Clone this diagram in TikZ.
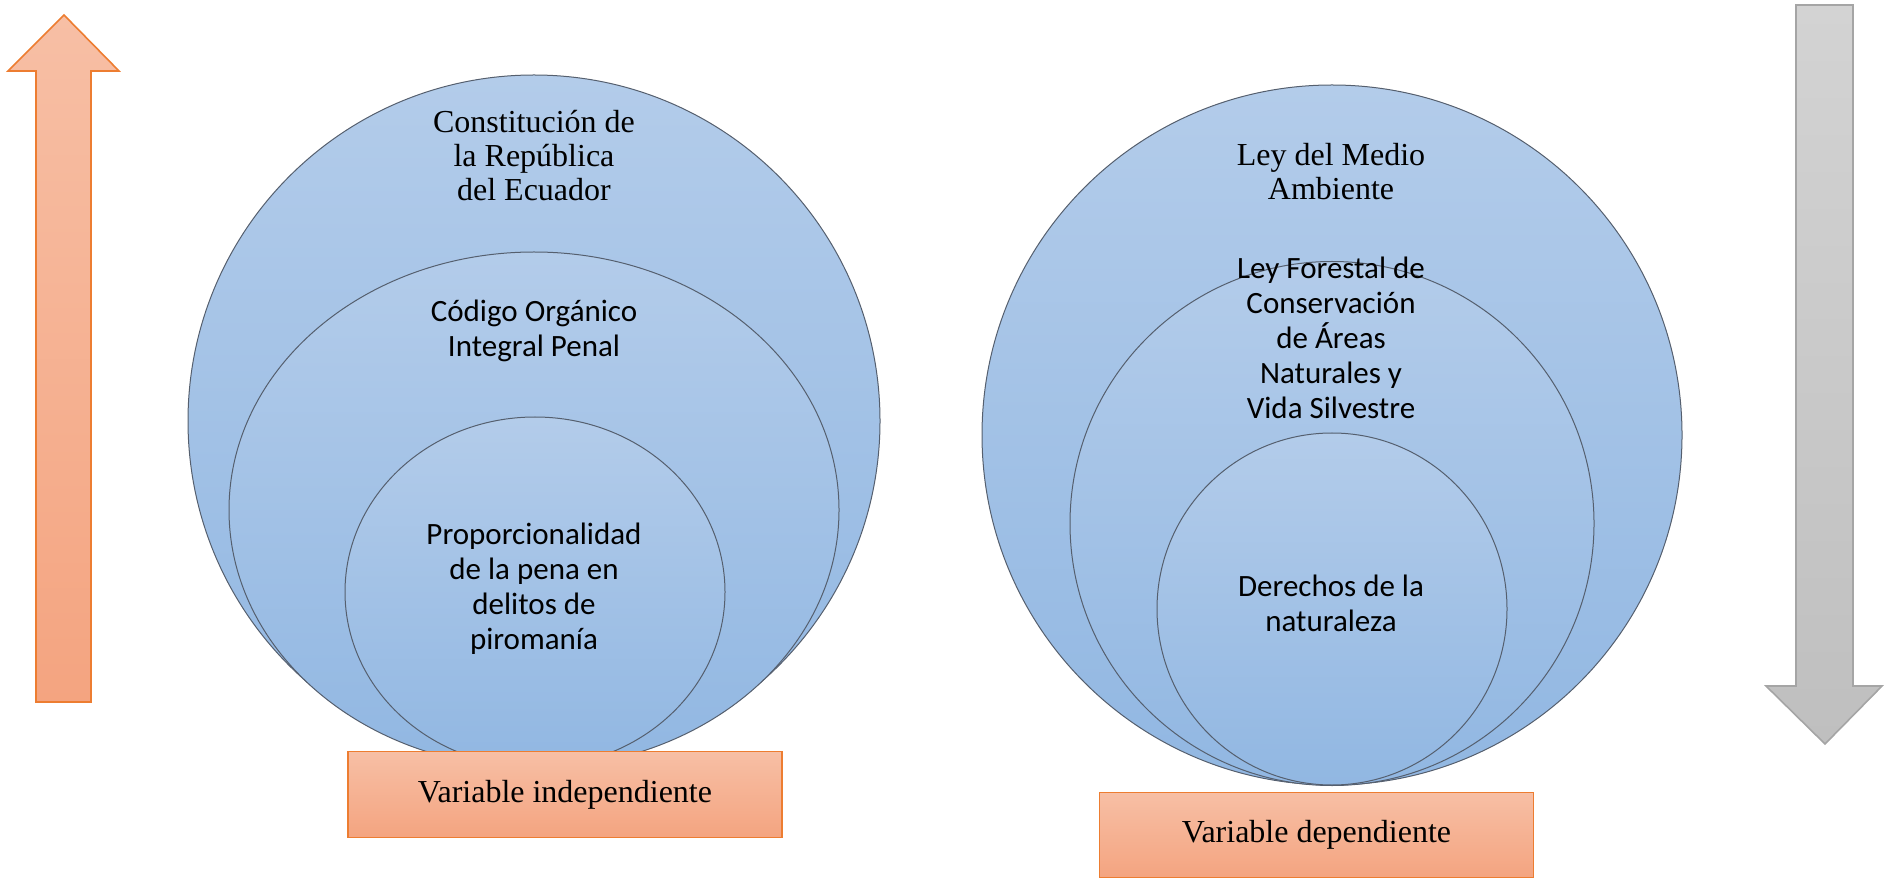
\documentclass[tikz,border=0pt]{standalone}
\usepackage{fontspec}
\setmainfont{Liberation Serif}
\newfontfamily\calibri{Carlito}
\definecolor{ringtop}{RGB}{179,204,234}
\definecolor{ringbot}{RGB}{145,183,226}
\definecolor{ringline}{RGB}{85,95,110}
\definecolor{boxtop}{RGB}{247,191,165}
\definecolor{boxbot}{RGB}{244,164,128}
\definecolor{orangeline}{RGB}{237,125,49}
\definecolor{graytop}{RGB}{211,211,211}
\definecolor{graybot}{RGB}{191,191,191}
\definecolor{grayline}{RGB}{165,165,165}
\begin{document}
\begin{tikzpicture}[x=0.5pt,y=-0.5pt]
    \tikzstyle{ring} = [draw=ringline, line width=0.5pt, top color=ringtop, bottom color=ringbot]
    \tikzstyle{serif text} = [align=center, inner sep=0pt, font=\fontsize{16}{17}\selectfont]
    \tikzstyle{sans text} = [align=center, inner sep=0pt, font=\calibri\fontsize{15.5}{17.5}\selectfont]
    \tikzstyle{varbox} = [draw=orangeline, line width=0.6pt, top color=boxtop, bottom color=boxbot,
      minimum width=217pt, minimum height=42.8pt, font=\fontsize{16}{17}\selectfont]
    \useasboundingbox (0,0) rectangle (1888,881);
    % upward arrow
    \path[draw=orangeline, line width=0.8pt, top color=boxtop, bottom color=boxbot]
      (36,702) -- (36,71) -- (8,71) -- (64,15) -- (119,71) -- (91,71) -- (91,702) -- cycle;
    % downward arrow
    \path[draw=grayline, line width=0.8pt, top color=graytop, bottom color=graybot]
      (1796,5) -- (1853,5) -- (1853,686) -- (1882,686) -- (1825,744) -- (1766,686) -- (1796,686) -- cycle;
    % left rings
    \path[ring] (534,421) ellipse [x radius=346, y radius=346];
    \path[ring] (534,510) ellipse [x radius=305, y radius=258];
    \path[ring] (535,592) ellipse [x radius=190, y radius=175];
    \node[serif text] (constitucion) at (534,156) {Constitución de\\la República\\del Ecuador};
    \node[sans text] (coip) at (534,331) {Código Orgánico\\Integral Penal};
    \node[sans text] (proporcionalidad) at (534,589) {Proporcionalidad\\de la pena en\\delitos de\\piromanía};
    \node[varbox] (independiente) at (565,794.5) {Variable independiente};
    % right rings
    \path[ring] (1332,435) ellipse [x radius=350, y radius=350];
    \path[ring] (1332,523.5) ellipse [x radius=262, y radius=262];
    \path[ring] (1332,609) ellipse [x radius=175, y radius=176];
    \node[serif text] (medioambiente) at (1331,172) {Ley del Medio\\Ambiente};
    \node[sans text] (forestal) at (1331,338) {Ley Forestal de\\Conservación\\de Áreas\\Naturales y\\Vida Silvestre};
    \node[sans text] (naturaleza) at (1331,603.5) {Derechos de la\\naturaleza};
    \node[varbox] (dependiente) at (1316.5,835) {Variable dependiente};
\end{tikzpicture}
\end{document}
